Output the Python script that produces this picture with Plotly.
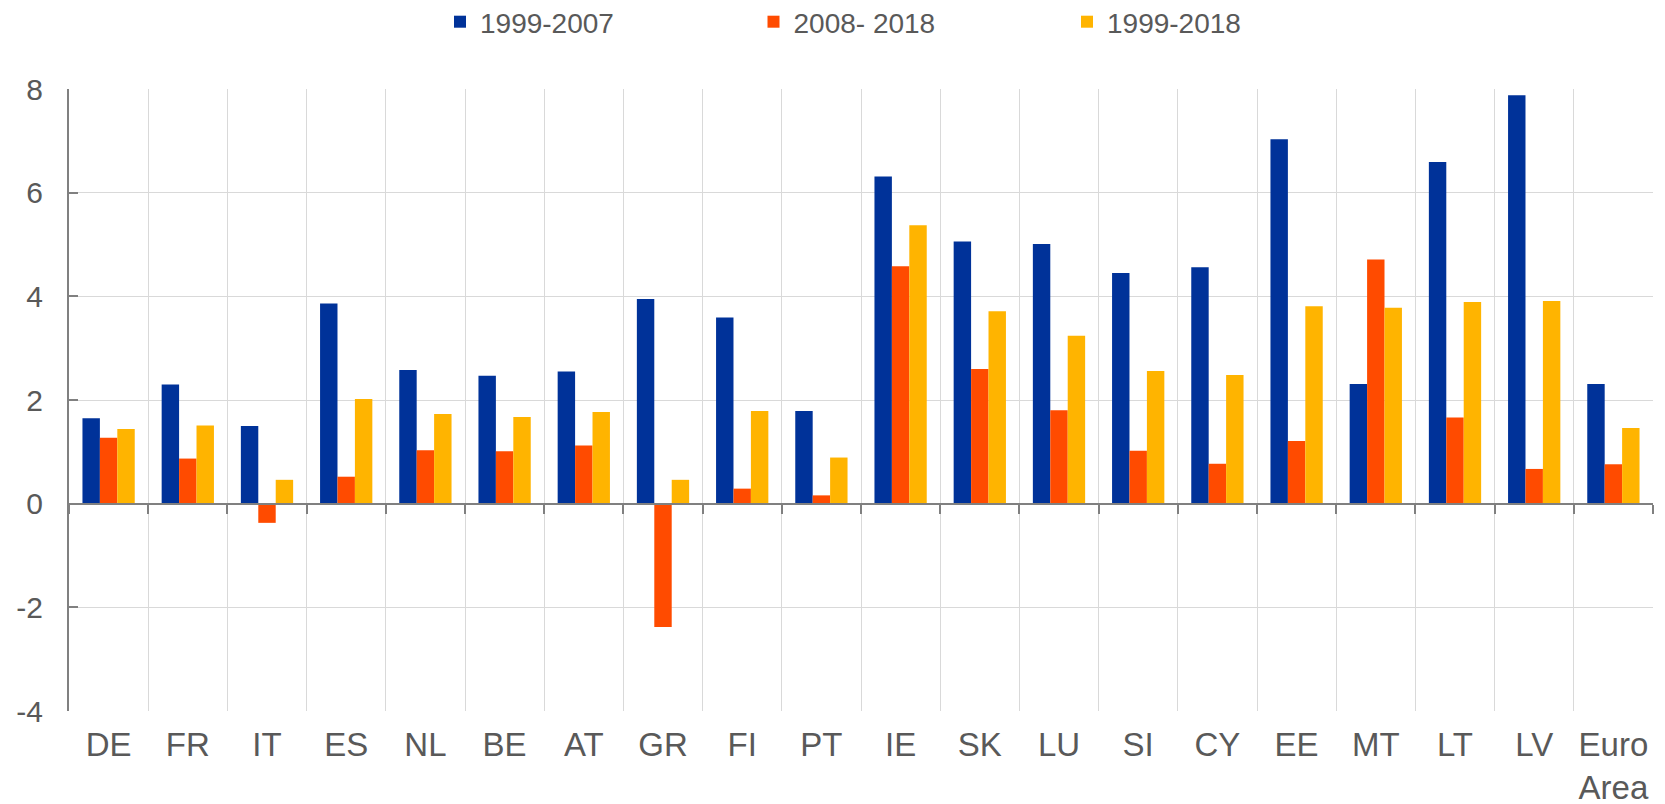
import plotly.graph_objects as go

countries = ["DE", "FR", "IT", "ES", "NL", "BE", "AT", "GR", "FI", "PT",
             "IE", "SK", "LU", "SI", "CY", "EE", "MT", "LT", "LV", "Euro<br>Area"]
s_1999_2007 = [1.65, 2.30, 1.50, 3.86, 2.58, 2.47, 2.55, 3.95, 3.59, 1.79,
               6.31, 5.06, 5.01, 4.45, 4.56, 7.03, 2.31, 6.59, 7.88, 2.31]
s_2008_2018 = [1.27, 0.87, -0.37, 0.52, 1.03, 1.01, 1.12, -2.38, 0.29, 0.16,
               4.58, 2.60, 1.80, 1.02, 0.77, 1.21, 4.71, 1.66, 0.67, 0.76]
s_1999_2018 = [1.44, 1.51, 0.46, 2.02, 1.73, 1.67, 1.77, 0.46, 1.79, 0.89,
               5.37, 3.71, 3.24, 2.56, 2.48, 3.81, 3.78, 3.89, 3.91, 1.46]
series_names = ["1999-2007", "2008- 2018", "1999-2018"]
colors = ["#003299", "#FF4B00", "#FFB400"]
y_ticks = [-4, -2, 0, 2, 4, 6, 8]
y_ticktext = ["-4", "-2", "0", "2", "4", "6", "8"]

FONT = "Liberation Sans, Arial, sans-serif"
TXT = "#595959"
GRID = "#d9d9d9"
AX = "#808080"

W, H = 1657, 796  # page body has an 8px margin

fig = go.Figure()
for name, vals, col in zip(series_names, [s_1999_2007, s_2008_2018, s_1999_2018], colors):
    fig.add_trace(go.Bar(x=countries, y=vals, name=name,
                         marker=dict(color=col, line=dict(width=0))))

# invisible helper trace to carry the zero-line axis with boundary ticks
fig.add_trace(go.Scatter(x=countries, y=[0] * len(countries), xaxis="x2",
                         mode="markers", marker=dict(opacity=0),
                         showlegend=False, hoverinfo="skip"))

n = len(countries)
fig.update_layout(
    width=W, height=H,
    margin=dict(l=61, r=12, t=81, b=93),
    paper_bgcolor="white", plot_bgcolor="white",
    barmode="group", bargap=0.34, bargroupgap=0,
    font=dict(family=FONT, color=TXT),
    legend=dict(orientation="h", xref="container", yref="container",
                x=432 / W, xanchor="left",
                y=1 - 14 / H, yanchor="middle",
                font=dict(size=28, color=TXT, family=FONT),
                entrywidth=268.5, entrywidthmode="pixels",
                bgcolor="rgba(0,0,0,0)"),
    xaxis=dict(type="category", categoryorder="array", categoryarray=countries,
               range=[-0.5, n - 0.5], showgrid=True, gridcolor=GRID, gridwidth=1,
               tickson="boundaries", ticks="", showline=False, zeroline=False,
               tickfont=dict(size=33, color=TXT, family=FONT),
               ticklabelstandoff=11, automargin=False),
    xaxis2=dict(type="category", categoryorder="array", categoryarray=countries,
                range=[-0.5, n - 0.5], overlaying="x", anchor="free",
                position=4 / 12, side="bottom", showline=True, linecolor=AX,
                linewidth=2, ticks="outside", ticklen=9, tickwidth=2,
                tickcolor=AX, tickson="boundaries", showticklabels=False,
                showgrid=False, zeroline=False, automargin=False),
    yaxis=dict(range=[-4, 8], tickvals=y_ticks, ticktext=y_ticktext,
               showgrid=True, gridcolor=GRID,
               gridwidth=1, zeroline=False, showline=True, linecolor=AX,
               linewidth=2, ticks="inside", ticklen=9, tickwidth=2, tickcolor=AX,
               tickfont=dict(size=30, color=TXT, family=FONT),
               ticklabelstandoff=18, automargin=False),
)

fig.write_html("out.html")
